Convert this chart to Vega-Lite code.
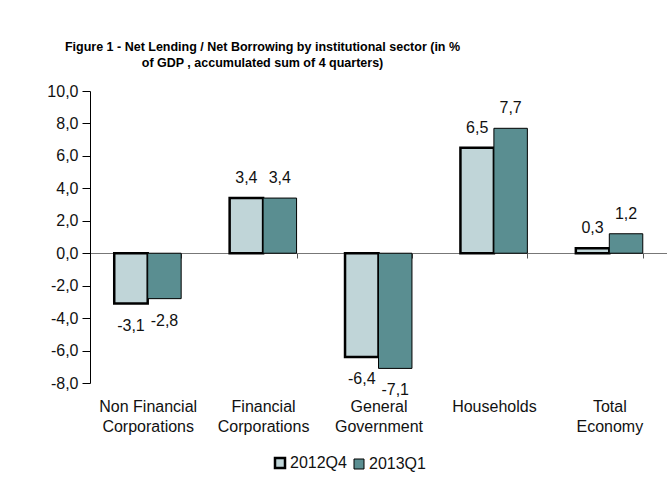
{
  "$schema": "https://vega.github.io/schema/vega-lite/v6.json",
  "autosize": {"type": "none"},
  "padding": {"left": 90, "top": 91, "right": 0, "bottom": 111},
  "width": 577,
  "height": 292,
  "background": "white",
  "config": {
    "view": {"stroke": null},
    "locale": {"number": {"decimal": ",", "thousands": ".", "grouping": [3], "currency": ["", " €"], "minus": "-"}},
    "font": "Liberation Sans",
    "legend": {
      "orient": "none", "legendX": 182, "legendY": 364, "direction": "horizontal",
      "title": null, "labelFontSize": 16, "labelColor": "#111", "symbolType": "square",
      "symbolSize": 100, "columnPadding": 4, "labelOffset": 2, "symbolStrokeColor": "black"
    }
  },
  "title": {
    "text": ["Figure 1 - Net Lending / Net Borrowing by institutional sector  (in %", "of GDP , accumulated sum of 4 quarters)"],
    "font": "Liberation Sans", "fontSize": 12.5, "fontWeight": "bold", "color": "#000",
    "anchor": "middle", "dx": -116, "offset": 14, "lineHeight": 16
  },
  "data": {"values": [
    {"sector": "Non Financial|Corporations", "period": "2012Q4", "value": -3.1},
    {"sector": "Non Financial|Corporations", "period": "2013Q1", "value": -2.8},
    {"sector": "Financial|Corporations", "period": "2012Q4", "value": 3.4},
    {"sector": "Financial|Corporations", "period": "2013Q1", "value": 3.4},
    {"sector": "General|Government", "period": "2012Q4", "value": -6.4},
    {"sector": "General|Government", "period": "2013Q1", "value": -7.1},
    {"sector": "Households", "period": "2012Q4", "value": 6.5},
    {"sector": "Households", "period": "2013Q1", "value": 7.7},
    {"sector": "Total|Economy", "period": "2012Q4", "value": 0.3},
    {"sector": "Total|Economy", "period": "2013Q1", "value": 1.2}
  ]},
  "encoding": {
    "x": {
      "field": "sector", "type": "nominal", "sort": null,
      "scale": {"paddingInner": 0.42, "paddingOuter": 0.21},
      "axis": {
        "title": null, "labelAngle": 0, "offset": -130, "tickBand": "extent",
        "tickSize": 5, "labelPadding": 140, "labelFontSize": 16, "labelColor": "#111",
        "labelExpr": "split(datum.label, '|')", "labelLineHeight": 20,
        "domainColor": "#777", "tickColor": "#555", "labelBaseline": "top"
      }
    },
    "xOffset": {"field": "period", "type": "nominal"},
    "y": {
      "field": "value", "type": "quantitative",
      "scale": {"domain": [-8, 10], "nice": false, "zero": false},
      "axis": {
        "title": null, "values": [-8, -6, -4, -2, 0, 2, 4, 6, 8, 10], "format": ".1f",
        "grid": false, "labelFontSize": 16, "labelColor": "#111", "domainColor": "#000",
        "tickColor": "#000", "tickSize": 8, "labelPadding": 4
      }
    }
  },
  "layer": [
    {
      "mark": {"type": "bar", "stroke": "black"},
      "encoding": {
        "color": {"field": "period", "type": "nominal",
          "scale": {"domain": ["2012Q4", "2013Q1"], "range": ["#C0D5D8", "#5A8E91"]},
          "legend": {"encode": {"symbols": {"update": {"stroke": {"value": "black"}, "strokeWidth": {"signal": "datum.value === '2012Q4' ? 2.5 : 1"}}}}}},
        "strokeWidth": {"field": "period", "type": "nominal",
          "scale": {"domain": ["2012Q4", "2013Q1"], "range": [2.5, 1]}, "legend": null}
      }
    },
    {
      "transform": [{"filter": "datum.value >= 0"}],
      "mark": {"type": "text", "baseline": "alphabetic", "dy": -15, "fontSize": 16, "color": "#111"},
      "encoding": {"text": {"field": "value", "type": "quantitative", "format": ".1f"}}
    },
    {
      "transform": [{"filter": "datum.value < 0"}],
      "mark": {"type": "text", "baseline": "top", "dy": 14, "fontSize": 16, "color": "#111"},
      "encoding": {"text": {"field": "value", "type": "quantitative", "format": ".1f"}}
    }
  ]
}
